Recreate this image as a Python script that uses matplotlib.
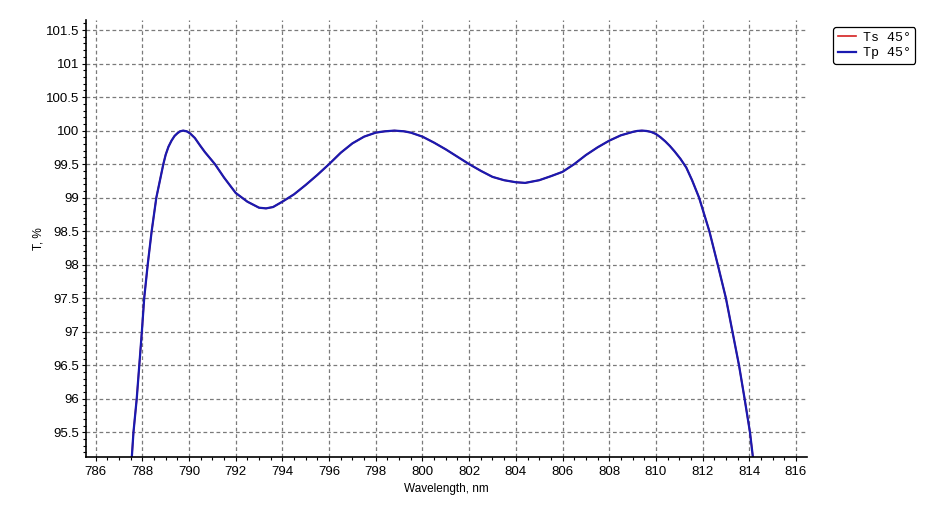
import matplotlib
matplotlib.use("Agg")
import matplotlib.pyplot as plt
from matplotlib.ticker import MultipleLocator, FuncFormatter

# ── Data (Ts and Tp overlap at 45°) ───────────────────────────────────────────
wavelength = [787.45, 787.62, 787.76, 787.87, 787.98, 788.08, 788.23, 788.4, 788.6,
              788.9, 789.0, 789.12, 789.25, 789.38, 789.5, 789.62, 789.75, 789.9,
              790.04, 790.25, 790.47, 790.68, 791.11,
              791.5, 792.0, 792.5, 793.0, 793.3, 793.6, 794.0, 794.5, 795.0, 795.5,
              796.0, 796.5, 797.0, 797.5, 798.0, 798.4, 798.8, 799.2, 799.5, 800.0,
              800.5, 801.0, 801.5, 802.0, 802.5, 803.0, 803.5, 804.0, 804.4, 805.0,
              805.5, 806.0, 806.5, 807.0, 807.5, 808.0, 808.5, 809.0, 809.2, 809.4,
              809.6, 809.8, 810.0, 810.2, 810.4, 810.6, 810.8, 811.05, 811.3,
              811.55, 811.85, 812.29, 812.65,
              813.0, 813.28, 813.56, 813.8, 814.03, 814.3]
ts_45 = [94.6, 95.5, 96.0, 96.5, 97.0, 97.5, 98.0, 98.5, 99.0,
         99.5, 99.64, 99.76, 99.85, 99.92, 99.96, 99.99, 100.0, 99.99,
         99.96, 99.89, 99.78, 99.68, 99.5,
         99.3, 99.07, 98.94, 98.85, 98.84, 98.86, 98.94, 99.05, 99.19, 99.34,
         99.5, 99.67, 99.81, 99.91, 99.97, 99.99, 100.0, 99.99, 99.97, 99.91,
         99.82, 99.72, 99.61, 99.5, 99.4, 99.31, 99.26, 99.23, 99.22, 99.26,
         99.32, 99.385, 99.5, 99.635, 99.75, 99.85, 99.93, 99.98, 99.995, 100.0,
         99.995, 99.98, 99.95, 99.9, 99.84, 99.77, 99.69, 99.58, 99.45,
         99.26, 99.0, 98.5, 98.0,
         97.5, 97.0, 96.5, 96.0, 95.5, 94.7]
tp_45 = list(ts_45)

series_labels = ["Ts 45°", "Tp 45°"]
series_colors = ["#d42020", "#1a1ab0"]

# ── Figure ───────────────────────────────────────────────────────────────────
fig = plt.figure(figsize=(9.48, 5.15), dpi=100)
ax = fig.add_axes([86.3 / 948, 1 - 457.3 / 515, (806.7 - 86.3) / 948, (457.3 - 20) / 515])

ax.plot(wavelength, ts_45, color=series_colors[0], lw=1.2, label=series_labels[0])
ax.plot(wavelength, tp_45, color=series_colors[1], lw=1.6, label=series_labels[1])

ax.set_xlim(785.6, 816.46)
ax.set_ylim(95.127, 101.65)

ax.xaxis.set_major_locator(MultipleLocator(2))
ax.xaxis.set_minor_locator(MultipleLocator(0.5))
ax.yaxis.set_major_locator(MultipleLocator(0.5))
ax.yaxis.set_minor_locator(MultipleLocator(0.1))
ax.yaxis.set_major_formatter(FuncFormatter(lambda v, p: f"{v:g}"))

for s in ("top", "right"):
    ax.spines[s].set_visible(False)
for s in ("left", "bottom"):
    ax.spines[s].set_linewidth(1.2)

ax.grid(True, which="major", color="#7a7a7a", linestyle=(0, (3, 2.2)), linewidth=0.9)
ax.tick_params(which="major", length=3, width=0.8, labelsize=9.5, pad=2)
ax.tick_params(axis="x", which="major", pad=3.5)
ax.tick_params(which="minor", length=2, width=0.8)
for lbl in ax.get_xticklabels() + ax.get_yticklabels():
    lbl.set_fontfamily("Liberation Sans")

ax.set_xlabel("Wavelength, nm", fontsize=8.5, family="Liberation Sans", labelpad=3.5)
ax.set_ylabel("T, %", fontsize=8.5, family="Liberation Sans", labelpad=1)

leg = fig.legend(loc="upper left", bbox_to_anchor=(833 / 948, 1 - 27 / 515),
                 prop={"family": "Liberation Mono", "size": 9.5},
                 fancybox=True, edgecolor="black", framealpha=1,
                 handlelength=1.4, handletextpad=0.5, borderpad=0.35,
                 labelspacing=0.25, borderaxespad=0)
leg.get_frame().set_linewidth(0.9)

fig.savefig("out.png", dpi=100)
